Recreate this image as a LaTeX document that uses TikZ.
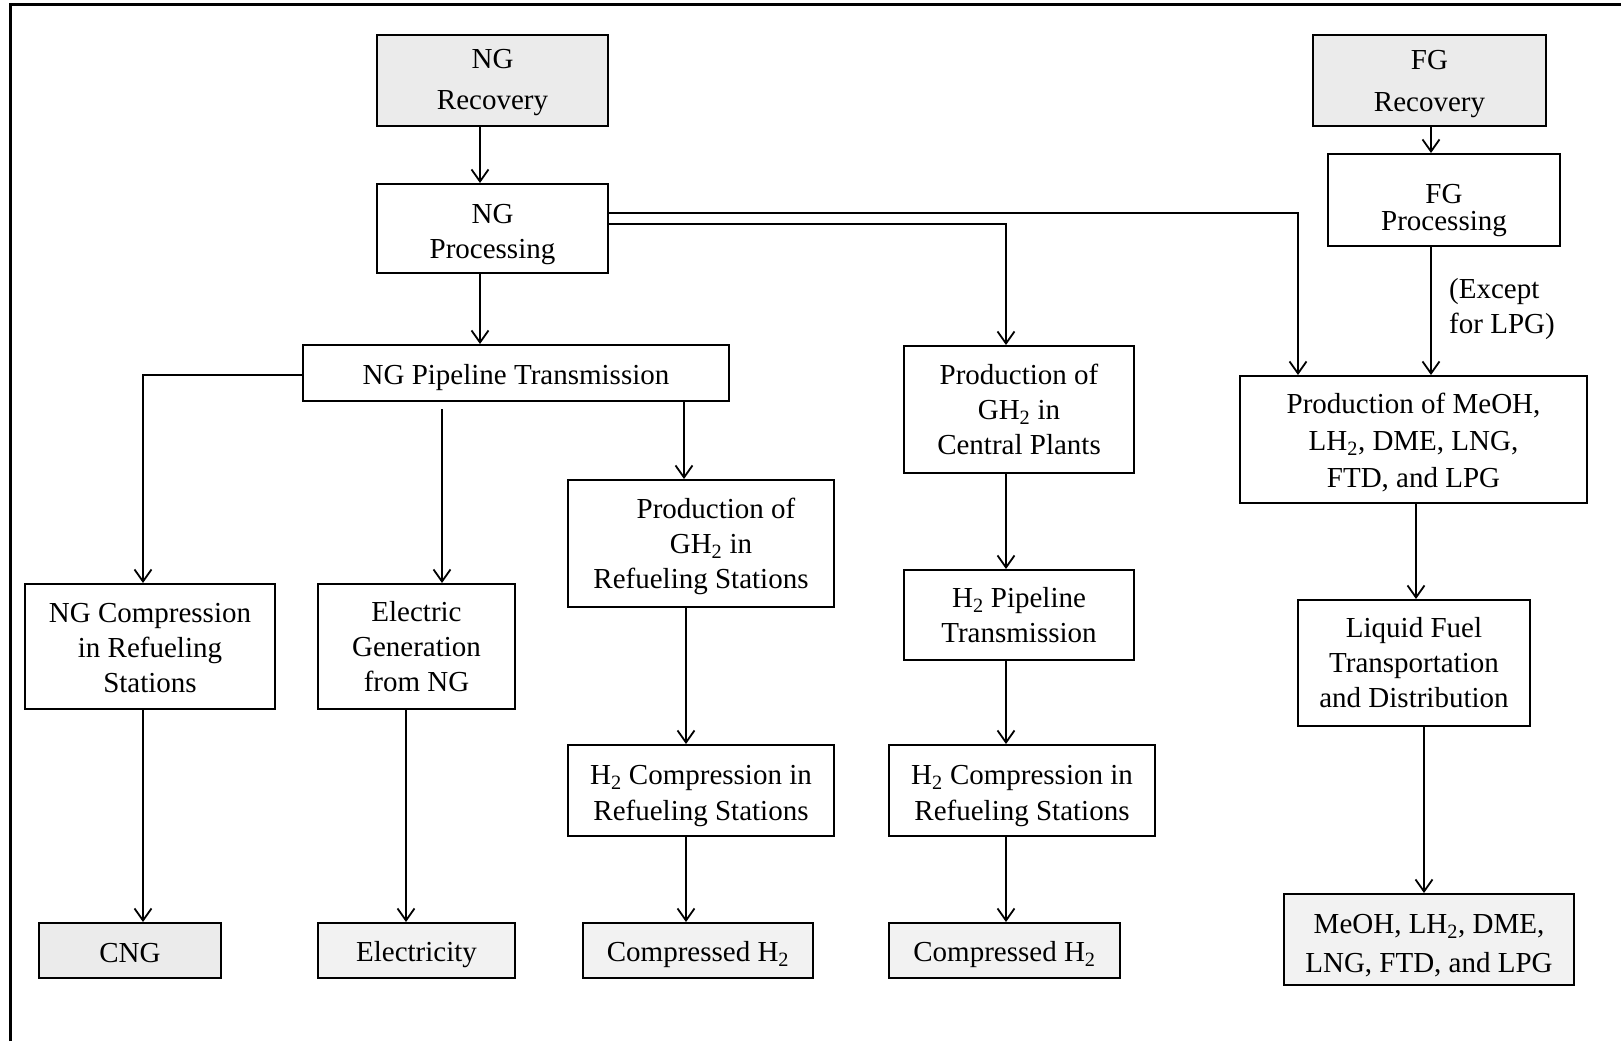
\documentclass[tikz,border=0pt]{standalone}
\usepackage{fontspec}
\setmainfont{Liberation Serif}
\usetikzlibrary{arrows.meta}
\newcommand{\liftby}[1]{\rule{0pt}{#1}}
\begin{document}
\begin{tikzpicture}[x=1pt,y=-1pt,
  box/.style={draw, line width=2pt, inner sep=0pt, align=center, font=\fontsize{29}{35}\selectfont},
  shadebox/.style={box, fill=black!8},
  lightbox/.style={box, fill=black!5},
  arr/.style={line width=1.8pt, -{Straight Barb[length=12pt,width=17pt,line width=1.8pt]}},
  lbl/.style={inner sep=0pt, align=left, font=\fontsize{29}{35}\selectfont}]
\useasboundingbox (0,0) rectangle (1621,1041);
\draw[line width=3pt] (10,1041) -- (10,5) -- (1621,5);

% nodes
\node[shadebox, minimum width=231pt, minimum height=91pt] (ngrec) at (492.5,80.5) {\liftby{24pt}NG\\[6pt]Recovery};
\node[box, minimum width=231pt, minimum height=89pt] (ngproc) at (492.5,228.5) {\liftby{31pt}NG\\Processing};
\node[box, minimum width=426pt, minimum height=56pt] (ngpipe) at (516,373) {\liftby{30pt}NG Pipeline Transmission};
\node[box, minimum width=250pt, minimum height=125pt] (ngcomp) at (150,646.5) {\liftby{22pt}NG Compression\\in Refueling\\Stations};
\node[box, minimum width=197pt, minimum height=125pt] (elgen) at (416.5,646.5) {Electric\\Generation\\from NG};
\node[box, minimum width=266pt, minimum height=127pt] (gh2ref) at (701,543.5) {\liftby{26pt}\hspace*{30pt}Production of\\\hspace*{20pt}GH\textsubscript{2} in\\Refueling Stations};
\node[box, minimum width=266pt, minimum height=91pt] (h2compL) at (701,790.5) {\liftby{31pt}H\textsubscript{2} Compression in\\[1pt]Refueling Stations};
\node[lightbox, minimum width=230pt, minimum height=55pt] (comph2L) at (698,950.5) {\liftby{28pt}Compressed H\textsubscript{2}};
\node[box, minimum width=230pt, minimum height=127pt] (gh2cen) at (1019,409.5) {Production of\\GH\textsubscript{2} in\\Central Plants};
\node[box, minimum width=230pt, minimum height=90pt] (h2pipe) at (1019,615) {H\textsubscript{2} Pipeline\\Transmission};
\node[box, minimum width=266pt, minimum height=91pt] (h2compR) at (1022,790.5) {\liftby{31pt}H\textsubscript{2} Compression in\\[1pt]Refueling Stations};
\node[lightbox, minimum width=231pt, minimum height=55pt] (comph2R) at (1004.5,950.5) {\liftby{28pt}Compressed H\textsubscript{2}};
\node[shadebox, minimum width=182pt, minimum height=55pt] (cng) at (130,950.5) {\liftby{24pt}CNG};
\node[lightbox, minimum width=197pt, minimum height=55pt] (elec) at (416.5,950.5) {\liftby{28pt}Electricity};
\node[shadebox, minimum width=233pt, minimum height=91pt] (fgrec) at (1429.5,80.5) {\liftby{26pt}FG\\[7pt]Recovery};
\node[box, minimum width=232pt, minimum height=92pt] (fgproc) at (1444,200) {\liftby{41pt}FG\\[-8pt]Processing};
\node[box, minimum width=347pt, minimum height=127pt] (meohprod) at (1413.5,439.5) {\liftby{26pt}Production of MeOH,\\[2pt]LH\textsubscript{2}, DME, LNG,\\[2pt]FTD, and LPG};
\node[box, minimum width=232pt, minimum height=126pt] (liquid) at (1414,663) {Liquid Fuel\\Transportation\\and Distribution};
\node[lightbox, minimum width=290pt, minimum height=91pt] (final) at (1429,939.5) {\liftby{32pt}MeOH, LH\textsubscript{2}, DME,\\[4pt]LNG, FTD, and LPG};
\node[lbl, anchor=west] (except) at (1449,309) {(Except\\for LPG)};

% helper coordinates
\coordinate (c480) at (480,0);
\coordinate (c1298) at (1298,0);
\coordinate (c1006) at (1006,0);
\coordinate (c143) at (143,0);
\coordinate (c442) at (442,0);
\coordinate (c684) at (684,0);
\coordinate (c686) at (686,0);
\coordinate (c406) at (406,0);
\coordinate (c1431) at (1431,0);
\coordinate (c1416) at (1416,0);
\coordinate (c1424) at (1424,0);
\coordinate (r213) at (0,213);
\coordinate (r224) at (0,224);
\coordinate (r375) at (0,375);

% connectors
\draw[arr] (c480 |- ngrec.south) -- (c480 |- ngproc.north);
\draw[arr] (c480 |- ngproc.south) -- (c480 |- ngpipe.north);
\draw[arr] (ngproc.east |- r213) -- (c1298 |- r213) -- (c1298 |- meohprod.north);
\draw[arr] (ngproc.east |- r224) -- (c1006 |- r224) -- (c1006 |- gh2cen.north);
\draw[arr] (ngpipe.west |- r375) -- (c143 |- r375) -- (c143 |- ngcomp.north);
\draw[arr] (c442 |- ngpipe.south) ++(0,7) -- (c442 |- elgen.north);
\draw[arr] (c684 |- ngpipe.south) -- (c684 |- gh2ref.north);
\draw[arr] (c686 |- gh2ref.south) -- (c686 |- h2compL.north);
\draw[arr] (c686 |- h2compL.south) -- (c686 |- comph2L.north);
\draw[arr] (c1006 |- gh2cen.south) -- (c1006 |- h2pipe.north);
\draw[arr] (c1006 |- h2pipe.south) -- (c1006 |- h2compR.north);
\draw[arr] (c1006 |- h2compR.south) -- (c1006 |- comph2R.north);
\draw[arr] (c143 |- ngcomp.south) -- (c143 |- cng.north);
\draw[arr] (c406 |- elgen.south) -- (c406 |- elec.north);
\draw[arr] (c1431 |- fgrec.south) -- (c1431 |- fgproc.north);
\draw[arr] (c1431 |- fgproc.south) -- (c1431 |- meohprod.north);
\draw[arr] (c1416 |- meohprod.south) -- (c1416 |- liquid.north);
\draw[arr] (c1424 |- liquid.south) -- (c1424 |- final.north);
\end{tikzpicture}
\end{document}
